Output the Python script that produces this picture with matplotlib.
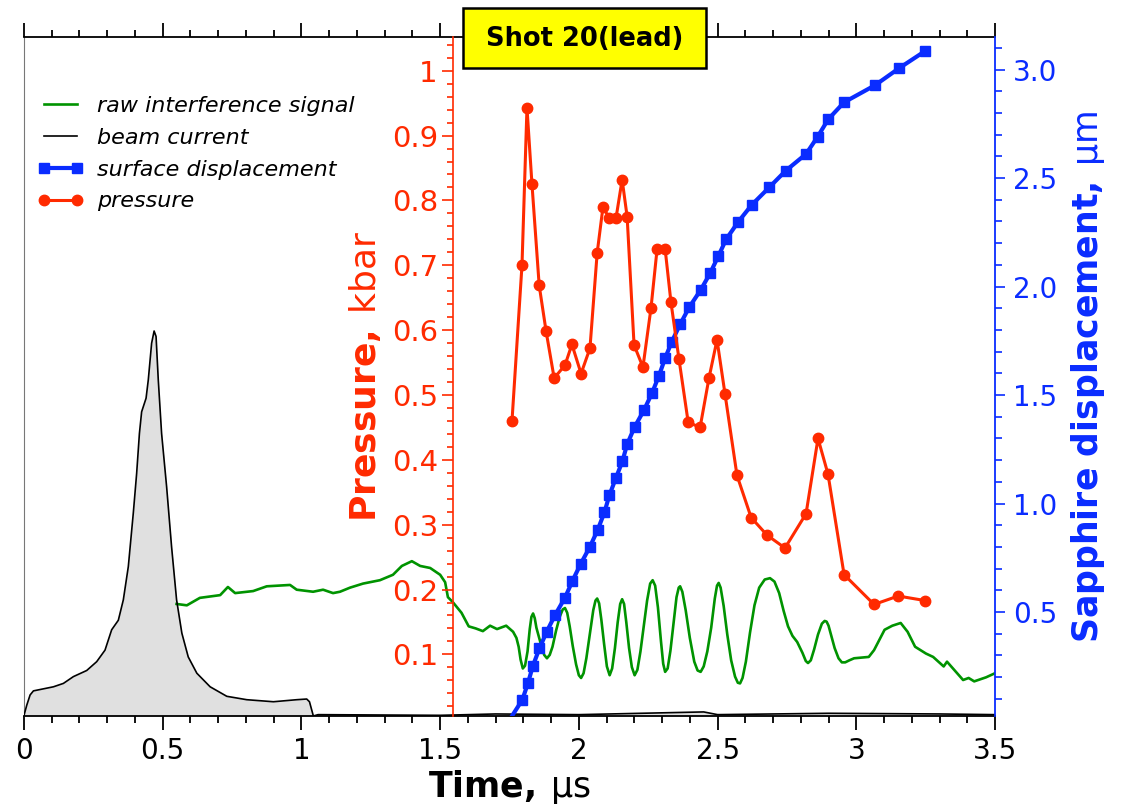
import matplotlib
matplotlib.use("Agg")
import matplotlib.pyplot as plt
from matplotlib.ticker import MultipleLocator, FormatStrFormatter
from matplotlib.patches import Rectangle
from matplotlib.lines import Line2D

plt.rcParams['font.family'] = ['DejaVu Sans']
plt.rcParams['mathtext.fontset'] = 'dejavusans'

# beam current (arbitrary units, 0..100 over the plot height)
beam_t = [0.0, 0.010, 0.022, 0.034, 0.058, 0.106, 0.142, 0.178, 0.226, 0.262,
          0.292, 0.316, 0.340, 0.358, 0.376, 0.394, 0.406, 0.416, 0.424, 0.440,
          0.448, 0.460, 0.469, 0.476, 0.484, 0.496, 0.514, 0.532, 0.550, 0.569,
          0.592, 0.623, 0.671, 0.731, 0.803, 0.899, 0.983, 1.019, 1.029, 1.043,
          1.06, 1.5, 1.7, 2.0, 2.45, 2.5, 2.9, 3.3, 3.5]
beam_v = [0.1, 1.6, 3.1, 3.7, 3.9, 4.3, 4.8, 5.8, 6.7, 8.0,
          9.7, 12.7, 14.1, 17.1, 22.0, 29.9, 35.7, 41.6, 44.8, 46.8,
          49.5, 54.9, 56.7, 55.9, 49.5, 41.6, 33.8, 24.9, 17.1, 12.2,
          8.7, 6.3, 4.3, 2.9, 2.4, 2.1, 2.4, 2.5, 2.1, 0.0,
          0.2, 0.1, 0.3, 0.2, 0.6, 0.2, 0.4, 0.3, 0.2]

# raw interference signal (arbitrary units)
sig_t = [0.550, 0.587, 0.634, 0.707, 0.735, 0.761, 0.826, 0.875, 0.959, 0.983,
         1.042, 1.078, 1.114, 1.139, 1.175, 1.222, 1.283, 1.330, 1.362, 1.398,
         1.428, 1.464, 1.500, 1.518, 1.528, 1.545, 1.577, 1.603, 1.628, 1.654,
         1.680, 1.705, 1.738, 1.763, 1.775, 1.783, 1.790, 1.798, 1.806, 1.815,
         1.823, 1.829, 1.835, 1.841, 1.847, 1.855, 1.865, 1.875, 1.885, 1.895,
         1.905, 1.918, 1.931, 1.942, 1.950, 1.958, 1.967, 1.978, 1.990, 2.000,
         2.008, 2.017, 2.027, 2.040, 2.052, 2.060, 2.066, 2.073, 2.081, 2.091,
         2.101, 2.111, 2.120, 2.130, 2.140, 2.149, 2.156, 2.163, 2.171, 2.181,
         2.191, 2.201, 2.211, 2.222, 2.234, 2.246, 2.257, 2.266, 2.275, 2.285,
         2.296, 2.304, 2.311, 2.320, 2.330, 2.341, 2.352, 2.360, 2.365, 2.373,
         2.385, 2.400, 2.416, 2.428, 2.439, 2.450, 2.463, 2.477, 2.490, 2.498,
         2.504, 2.511, 2.522, 2.535, 2.549, 2.563, 2.573, 2.581, 2.590, 2.602,
         2.617, 2.633, 2.650, 2.670, 2.689, 2.705, 2.722, 2.738, 2.754, 2.770,
         2.787, 2.806, 2.818, 2.826, 2.836, 2.848, 2.862, 2.876, 2.886, 2.893,
         2.900, 2.910, 2.922, 2.936, 2.948, 2.960, 2.975, 2.992, 3.045, 3.064,
         3.102, 3.130, 3.160, 3.185, 3.212, 3.251, 3.277, 3.315, 3.327, 3.353,
         3.385, 3.405, 3.425, 3.468, 3.500]
sig_v = [16.5, 16.3, 17.4, 17.8, 19.0, 18.1, 18.4, 19.1, 19.3, 18.6,
         18.3, 18.6, 18.1, 18.3, 18.9, 19.5, 20.0, 20.8, 22.1, 22.8,
         22.1, 21.8, 20.8, 19.7, 17.5, 16.8, 15.2, 13.2, 12.9, 12.5,
         13.3, 12.8, 13.3, 12.4, 11.5, 10.2, 8.3, 7.0, 7.4, 9.5,
         12.8, 14.6, 15.1, 14.4, 13.0, 11.8, 10.3, 9.0, 8.5, 9.0,
         10.2, 12.6, 14.6, 15.7, 15.9, 15.2, 13.2, 10.3, 7.6, 6.0,
         5.6, 6.3, 8.5, 12.2, 15.6, 17.0, 17.3, 16.6, 14.2, 10.6,
         7.3, 6.0, 7.0, 10.0, 13.8, 16.5, 17.2, 16.5, 13.8, 10.0,
         7.2, 6.0, 6.8, 9.5, 13.2, 17.0, 19.5, 20.0, 19.2, 16.0,
         11.0, 7.7, 6.5, 7.0, 9.6, 13.6, 17.5, 18.9, 19.1, 18.3,
         15.6, 11.5, 8.0, 6.7, 6.5, 7.3, 9.5, 13.0, 17.3, 19.2,
         19.6, 18.9, 16.2, 12.0, 8.2, 5.8, 4.9, 4.8, 5.6, 8.0,
         12.3, 16.3, 18.9, 20.1, 20.3, 19.8, 18.1, 15.5, 13.2, 11.8,
         10.9, 9.3, 8.1, 7.8, 8.2, 9.8, 12.0, 13.6, 14.0, 13.9,
         13.3, 11.8, 10.0, 8.5, 7.9, 7.9, 8.2, 8.5, 8.7, 9.7,
         12.7, 13.3, 13.7, 12.4, 10.2, 9.2, 8.7, 7.3, 8.0, 6.8,
         5.3, 5.6, 5.1, 5.7, 6.3]

# surface displacement, um
disp_t = [1.759, 1.796, 1.817, 1.834, 1.858, 1.884, 1.914, 1.950, 1.977, 2.007,
          2.040, 2.068, 2.092, 2.110, 2.133, 2.157, 2.174, 2.201, 2.235, 2.264,
          2.289, 2.311, 2.335, 2.365, 2.398, 2.439, 2.473, 2.503, 2.531, 2.575,
          2.623, 2.687, 2.745, 2.819, 2.861, 2.899, 2.956, 3.068, 3.154, 3.249]
disp_um = [0.021, 0.095, 0.174, 0.251, 0.333, 0.409, 0.486, 0.566, 0.644, 0.723,
           0.801, 0.879, 0.959, 1.038, 1.116, 1.195, 1.273, 1.353, 1.431, 1.510,
           1.590, 1.670, 1.746, 1.826, 1.905, 1.984, 2.061, 2.141, 2.218, 2.299,
           2.376, 2.458, 2.533, 2.611, 2.691, 2.771, 2.849, 2.928, 3.006, 3.086]

# pressure, kbar
pres_t = [1.759, 1.795, 1.813, 1.831, 1.857, 1.882, 1.911, 1.950, 1.975, 2.008,
          2.040, 2.066, 2.087, 2.109, 2.134, 2.156, 2.174, 2.199, 2.231, 2.260,
          2.282, 2.311, 2.332, 2.361, 2.394, 2.437, 2.469, 2.498, 2.527, 2.570,
          2.621, 2.678, 2.743, 2.819, 2.862, 2.898, 2.956, 3.064, 3.151, 3.248]
pres_kbar = [0.460, 0.700, 0.943, 0.825, 0.669, 0.598, 0.526, 0.546, 0.578, 0.533,
             0.572, 0.719, 0.790, 0.773, 0.773, 0.832, 0.775, 0.577, 0.543, 0.634,
             0.725, 0.725, 0.643, 0.555, 0.458, 0.450, 0.526, 0.585, 0.501, 0.376,
             0.311, 0.284, 0.264, 0.317, 0.433, 0.378, 0.223, 0.177, 0.190, 0.183]

RED = '#ff2a00'
BLUE = '#0a2cff'
GREEN = '#009300'

fig = plt.figure(figsize=(11.24, 8.09), dpi=100)
ax = fig.add_axes([24 / 1124, 1 - 716 / 809, 971 / 1124, 679 / 809])

ax.fill_between(beam_t, beam_v, 0, color='#e0e0e0', lw=0, zorder=1)
ax.plot(sig_t, sig_v, color=GREEN, lw=1.9, zorder=2)
ax.plot(beam_t, beam_v, color='black', lw=1.2, zorder=3)
ax.set_xlim(0, 3.5)
ax.set_ylim(0, 100)

# displacement axis (right, blue)
ax3 = ax.twinx()
ax3.plot(disp_t, disp_um, color=BLUE, lw=3, marker='s', ms=6.5,
         markevery=slice(1, None))
ax3.set_ylim(0.021, 3.15)
for s in ['left', 'top', 'bottom']:
    ax3.spines[s].set_visible(False)
ax3.spines['right'].set_color(BLUE)
ax3.spines['right'].set_linewidth(1.3)
ax3.yaxis.set_major_locator(MultipleLocator(0.5))
ax3.yaxis.set_minor_locator(MultipleLocator(0.1))
ax3.yaxis.set_major_formatter(FormatStrFormatter('%.1f'))
ax3.tick_params(axis='y', which='both', colors=BLUE, direction='out', width=1.2,
                labelsize=20, pad=6)
ax3.tick_params(axis='y', which='major', length=7)
ax3.tick_params(axis='y', which='minor', length=5)
ax3.set_ylabel('$\\mathbf{Sapphire\\ displacement,}\\:$µm', color=BLUE,
               fontsize=25, labelpad=8)

# pressure axis (inside, red)
ax2 = ax.twinx()
ax2.plot(pres_t, pres_kbar, color=RED, lw=2.2, marker='o', ms=7.5)
ax2.set_ylim(0.005, 1.052)
for s in ['right', 'top', 'bottom']:
    ax2.spines[s].set_visible(False)
ax2.spines['left'].set_visible(True)
ax2.spines['left'].set_position(('data', 1.547))
ax2.spines['left'].set_color(RED)
ax2.spines['left'].set_linewidth(1.2)
ax2.yaxis.tick_left()
ax2.yaxis.set_label_position('left')
ax2.yaxis.set_major_locator(MultipleLocator(0.1))
ax2.yaxis.set_minor_locator(MultipleLocator(0.02))
ax2.yaxis.set_major_formatter(FormatStrFormatter('%g'))
ax2.tick_params(axis='y', which='both', colors=RED, direction='out', width=1.2,
                labelsize=21, pad=3)
ax2.tick_params(axis='y', which='major', length=8)
ax2.tick_params(axis='y', which='minor', length=4)
ax2.set_ylabel('$\\mathbf{Pressure,}\\:$kbar', color=RED, fontsize=26, labelpad=6)

# main axis styling (after twinx, which turns the left ticks back on)
ax.xaxis.set_major_locator(MultipleLocator(0.5))
ax.xaxis.set_minor_locator(MultipleLocator(0.1))
ax.xaxis.set_major_formatter(FormatStrFormatter('%g'))
ax.tick_params(axis='x', which='both', direction='out', top=True, width=1.3,
               labelsize=20, pad=5)
ax.tick_params(axis='x', which='major', length=10)
ax.tick_params(axis='x', which='minor', length=5)
ax.tick_params(axis='y', which='both', left=False, right=False,
               labelleft=False, labelright=False)
ax.spines['left'].set_color('#777777')
ax.spines['right'].set_visible(False)
ax.spines['top'].set_linewidth(1.3)
ax.spines['bottom'].set_linewidth(1.3)
ax.set_xlabel('$\\mathbf{Time,}\\:$µs', fontsize=25, labelpad=2)

handles = [Line2D([], [], color=GREEN, lw=1.9),
           Line2D([], [], color='black', lw=1.2),
           Line2D([], [], color=BLUE, lw=3, marker='s', ms=6.5),
           Line2D([], [], color=RED, lw=2.2, marker='o', ms=7.5)]
labels = ['raw interference signal', 'beam current', 'surface displacement', 'pressure']
ax2.legend(handles, labels, loc='upper left', bbox_to_anchor=(0.0134, 0.913),
           frameon=False, numpoints=2, handlelength=2.1, handletextpad=0.6,
           labelspacing=0.53, borderpad=0, borderaxespad=0,
           prop={'size': 16, 'style': 'italic'})

# title box
fig.add_artist(Rectangle((463 / 1124, 1 - 68 / 809), 243 / 1124, 60 / 809,
                         transform=fig.transFigure, facecolor='#ffff00',
                         edgecolor='black', lw=1.8, zorder=10))
fig.text(584.5 / 1124, 1 - 39 / 809, 'Shot 20(lead)', ha='center', va='center',
         fontsize=18.5, fontweight='bold', zorder=11)

fig.savefig('out.png', dpi=100)
